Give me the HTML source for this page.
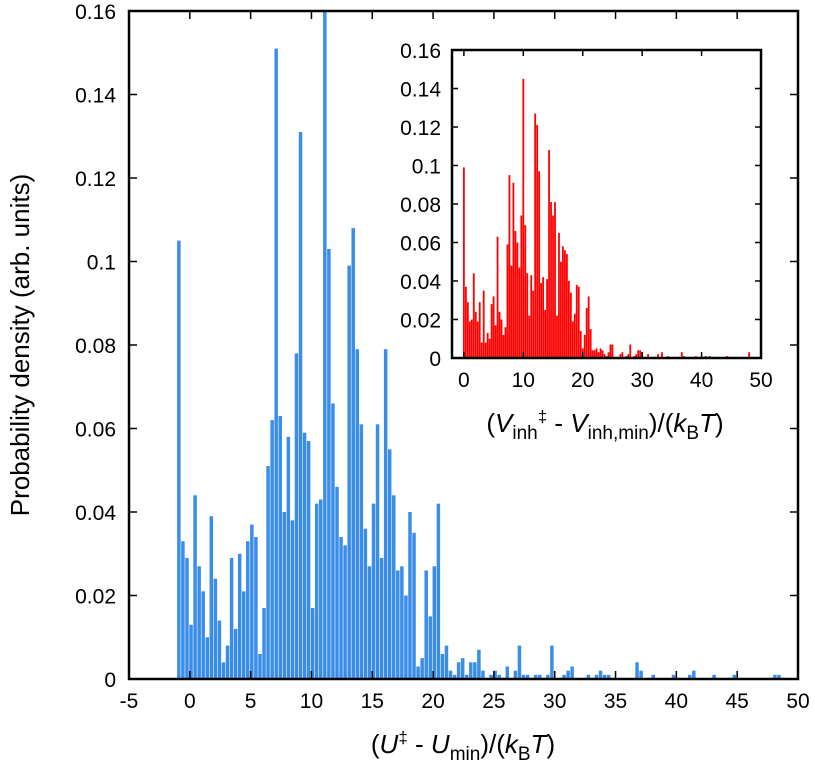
<!DOCTYPE html>
<html><head><meta charset="utf-8"><style>
html,body{margin:0;padding:0;background:#fff;}
svg{display:block;font-family:"Liberation Sans",sans-serif;}
</style></head><body>
<svg id="chart" width="815" height="763" viewBox="0 0 815 763" xmlns="http://www.w3.org/2000/svg">
<g id="mainBars"></g>
<g id="mainAxes"></g>
<text transform="translate(29,345) rotate(-90)" text-anchor="middle" font-size="26">Probability density (arb. units)</text>
<text x="463" y="753" text-anchor="middle" font-size="26">(<tspan font-style="italic">U</tspan><tspan dy="-10" font-size="17">‡</tspan><tspan dy="10"> - </tspan><tspan font-style="italic">U</tspan><tspan dy="7" font-size="19">min</tspan><tspan dy="-7">)/(</tspan><tspan font-style="italic">k</tspan><tspan dy="7" font-size="19">B</tspan><tspan dy="-7" font-style="italic">T</tspan>)</text>
<rect x="452" y="50" width="309" height="308" fill="#fff"/>
<g id="insetBars"></g>
<g id="insetAxes"></g>
<text x="605" y="432" text-anchor="middle" font-size="26">(<tspan font-style="italic">V</tspan><tspan dy="7" font-size="19">inh</tspan><tspan dy="-17" font-size="17">‡</tspan><tspan dy="10"> - </tspan><tspan font-style="italic">V</tspan><tspan dy="7" font-size="19">inh,min</tspan><tspan dy="-7">)/(</tspan><tspan font-style="italic">k</tspan><tspan dy="7" font-size="19">B</tspan><tspan dy="-7" font-style="italic">T</tspan>)</text>
</svg>
<script>
const mainStart = -0.9;
const binWidth = 1/3;
const mainValues = [
0.105,0.033,0.029,0.013,0.044,0.027,0.021,0.010,0.039,0.024,
0.014,0.004,0.008,0.029,0.012,0.030,0.021,0.033,0.037,0.034,
0.006,0.017,0.051,0.062,0.151,0.063,0.040,0.058,0.038,0.078,
0.131,0.059,0.057,0.017,0.042,0.043,0.160,0.103,0.066,0.046,
0.034,0.032,0.099,0.108,0.079,0.061,0.036,0.027,0.042,0.061,
0.029,0.079,0.055,0.044,0.026,0.027,0.020,0.040,0.035,0.003,
0.005,0.026,0.015,0.027,0.042,
0.006,0.008,0.002,0.001,0.004,0.005,0.001,0.004,0.004,0.007,
0.002,0,0.001,0.002,0.001,0,0.003,0,0.002,0.008,
0.001,0.001,0,0.001,0.001,0,0.001,0.008,0,0,
0.001,0.002,0.003,0,0,0,0.001,0,0.001,0.002,
0.001,0.001,0,0,0,0,0,0,0.004,0.002,
0,0,0.001,0,0,0,0,0.001,0,0,
0,0.001,0.002,0,0,0,0,0.001,0,0,
0,0,0.001,0,0,0,0,0,0,0,
0,0,0.001,0.001];
const insetStart = 0;
const insetValues = [
0.099,0.037,0.029,0.019,0.020,0.044,0.024,0.019,0.029,0.008,
0.035,0.008,0.013,0.010,0.028,0.032,0.017,0.063,0.024,0.020,
0.012,0.016,0.059,0.095,0.048,0.091,0.066,0.060,0.047,0.074,
0.145,0.069,0.044,0.022,0.043,0.035,0.127,0.121,0.097,0.039,
0.042,0.025,0.041,0.108,0.081,0.074,0.081,0.022,0.065,0.050,
0.058,0.056,0.054,0.040,0.034,0.019,0.023,0.038,0.037,0.014,
0.005,0.012,0.026,0.032,0.015,0.004,0.004,0.005,0.003,0.005,
0.004,0.002,0.001,0.003,0.007,0.007,0,0,0,0.002,
0.003,0,0.001,0.002,0.007,0,0.001,0.002,0.004,
0.004,0.003,0,0,0.002,0,0,0,0,0.002,
0,0.003,0,0,0.001,0,0,0,0,0,
0,0.003,0.001,0,0,0,0,0,0.001,0,
0,0,0,0.001,0,0.001,0,0,0,0,
0,0,0,0,0.001,0,0,0,0,0,
0,0,0,0,0,0.003];
const mainXTicks = [-5,0,5,10,15,20,25,30,35,40,45,50];
const mainYTicks = [0,0.02,0.04,0.06,0.08,0.1,0.12,0.14,0.16];
const insetXTicks = [0,10,20,30,40,50];
const insetYTicks = [0,0.02,0.04,0.06,0.08,0.1,0.12,0.14,0.16];

const NS = "http://www.w3.org/2000/svg";
function mk(tag, attrs, parent){const e=document.createElementNS(NS,tag);for(const k in attrs)e.setAttribute(k,attrs[k]);parent.appendChild(e);return e;}
function lin(d0,d1,r0,r1){return v=>r0+(v-d0)*(r1-r0)/(d1-d0);}

function drawPanel(cfg){
  const xs=lin(cfg.xmin,cfg.xmax,cfg.L,cfg.R), ys=lin(0,0.16,cfg.B,cfg.T);
  const bars=document.getElementById(cfg.barsId), axes=document.getElementById(cfg.axesId);
  cfg.values.forEach((v,i)=>{
    if(v<=0) return;
    const c=xs(cfg.start+i*binWidth);
    const r=mk('rect',{x:c-cfg.bw/2,y:ys(v),width:cfg.bw,height:cfg.B-ys(v),fill:cfg.color},bars);
    
    
  });
  cfg.xticks.forEach(t=>{
    const x=xs(t);
    mk('line',{x1:x,y1:cfg.B,x2:x,y2:cfg.B-cfg.tl,stroke:'#000','stroke-width':1.5},axes);
    mk('line',{x1:x,y1:cfg.T,x2:x,y2:cfg.T+cfg.tl,stroke:'#000','stroke-width':1.5},axes);
    const tx=mk('text',{x:x,y:cfg.B+cfg.xlOff,'text-anchor':'middle','font-size':cfg.fs},axes);
    tx.textContent=String(t);
    
    
  });
  cfg.yticks.forEach(t=>{
    const y=ys(t);
    mk('line',{x1:cfg.L,y1:y,x2:cfg.L+cfg.tl,y2:y,stroke:'#000','stroke-width':1.5},axes);
    mk('line',{x1:cfg.R,y1:y,x2:cfg.R-cfg.tl,y2:y,stroke:'#000','stroke-width':1.5},axes);
    const ty=mk('text',{x:cfg.L-cfg.ylOff,y:y+8,'text-anchor':'end','font-size':cfg.fs},axes);
    ty.textContent=String(t);
    
    
  });
  const f=mk('rect',{x:cfg.L,y:cfg.T,width:cfg.R-cfg.L,height:cfg.B-cfg.T,fill:'none',stroke:'#000','stroke-width':2.5},axes);
  
  
}
drawPanel({barsId:'mainBars',axesId:'mainAxes',prefix:'main',values:mainValues,start:mainStart,
  xmin:-5,xmax:50,L:129,R:798,T:11,B:679,bw:3.5,color:'#3a8ee8',tl:8,fs:21,xlOff:29,ylOff:13,
  xticks:mainXTicks,yticks:mainYTicks});
drawPanel({barsId:'insetBars',axesId:'insetAxes',prefix:'inset',values:insetValues,start:insetStart,
  xmin:-2,xmax:50,L:452,R:761,T:50,B:358,bw:1.8,color:'#ff0000',tl:6,fs:21,xlOff:29,ylOff:11,
  xticks:insetXTicks,yticks:insetYTicks});
</script>
</body></html>
